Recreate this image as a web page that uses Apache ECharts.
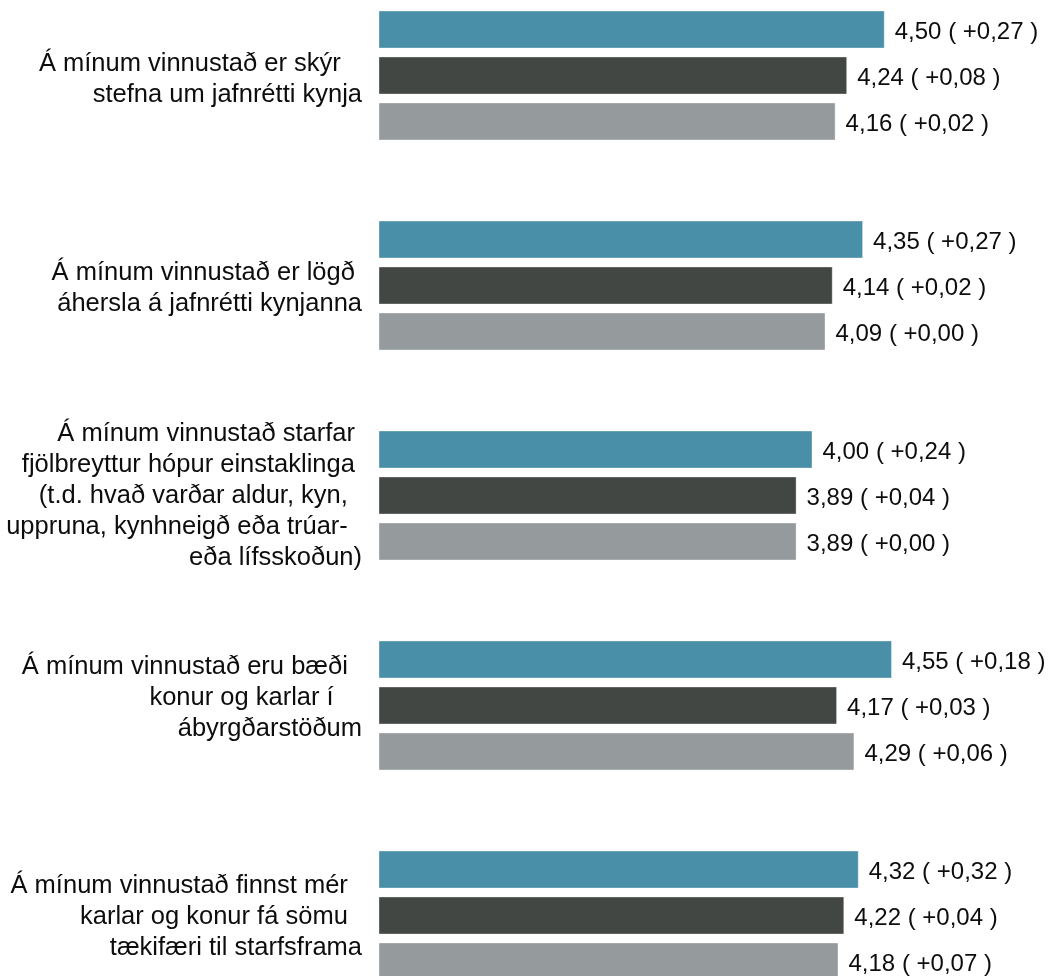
<!DOCTYPE html>
<html>
<head>
<meta charset="utf-8">
<script src="https://cdn.jsdelivr.net/npm/echarts@6/dist/echarts.min.js"></script>
<style>
html,body{margin:0;padding:0;background:#fff;}
#chart{width:1050px;height:976px;}
</style>
</head>
<body>
<div id="chart"></div>
<script>
const categories = [
  "Á mínum vinnustað er skýr   \nstefna um jafnrétti kynja",
  "Á mínum vinnustað er lögð \náhersla á jafnrétti kynjanna",
  "Á mínum vinnustað starfar \nfjölbreyttur hópur einstaklinga \n(t.d. hvað varðar aldur, kyn,  \nuppruna, kynhneigð eða trúar-  \neða lífsskoðun)",
  "Á mínum vinnustað eru bæði  \nkonur og karlar í    \nábyrgðarstöðum",
  "Á mínum vinnustað finnst mér  \nkarlar og konur fá sömu  \ntækifæri til starfsframa"
];
const seriesA = [4.50, 4.35, 4.00, 4.55, 4.32];
const diffA   = [0.27, 0.27, 0.24, 0.18, 0.32];
const seriesB = [4.24, 4.14, 3.89, 4.17, 4.22];
const diffB   = [0.08, 0.02, 0.04, 0.03, 0.04];
const seriesC = [4.16, 4.09, 3.89, 4.29, 4.18];
const diffC   = [0.02, 0.00, 0.00, 0.06, 0.07];

// small vertical nudges of each category label block (px, + = down)
const labelShift = [3.5, 2.5, 0, -8, 1];

const fmt = v => v.toFixed(2).replace('.', ',');
function makeSeries(name, values, diffs, color) {
  return {
    name: name,
    type: 'bar',
    data: values,
    barWidth: 38,
    barGap: '21%',
    itemStyle: { color: color, borderColor: 'rgba(255,255,255,0.35)', borderWidth: 1 },
    label: {
      show: true,
      position: 'right',
      distance: 10,
      offset: [0, 2.5],
      color: '#0d0d0d',
      fontFamily: 'Liberation Sans, Arial, sans-serif',
      fontSize: 24,
      formatter: p => fmt(p.value) + ' ( +' + fmt(diffs[p.dataIndex]) + ' )'
    },
    animation: false
  };
}

// spacer styles: an extra thin line above (shift down) or below (shift up)
const rich = {};
labelShift.forEach((s, i) => {
  if (s !== 0) rich['sp' + i] = { fontSize: 1, lineHeight: Math.abs(2 * s) };
});
function labelFormatter(value, index) {
  const i = categories.indexOf(value);
  const s = labelShift[i];
  if (!s) return value;
  const spacer = '{sp' + i + '| }';
  return s > 0 ? spacer + '\n' + value : value + '\n' + spacer;
}

const chart = echarts.init(document.getElementById('chart'), null, { renderer: 'canvas' });
chart.setOption({
  animation: false,
  grid: { left: 379, width: 578, top: -29.5, height: 1050, containLabel: false, outerBoundsMode: 'none' },
  xAxis: { type: 'value', min: 1, max: 5, show: false },
  yAxis: {
    type: 'category',
    data: categories,
    inverse: true,
    axisLine: { show: false },
    axisTick: { show: false },
    splitLine: { show: false },
    axisLabel: {
      interval: 0,
      margin: 17,
      color: '#0d0d0d',
      fontFamily: 'Liberation Sans, Arial, sans-serif',
      fontSize: 25.5,
      lineHeight: 31,
      align: 'right',
      formatter: labelFormatter,
      rich: rich
    }
  },
  series: [
    makeSeries('A', seriesA, diffA, '#4a8fa8'),
    makeSeries('B', seriesB, diffB, '#424744'),
    makeSeries('C', seriesC, diffC, '#959b9c')
  ]
});
</script>
</body>
</html>
